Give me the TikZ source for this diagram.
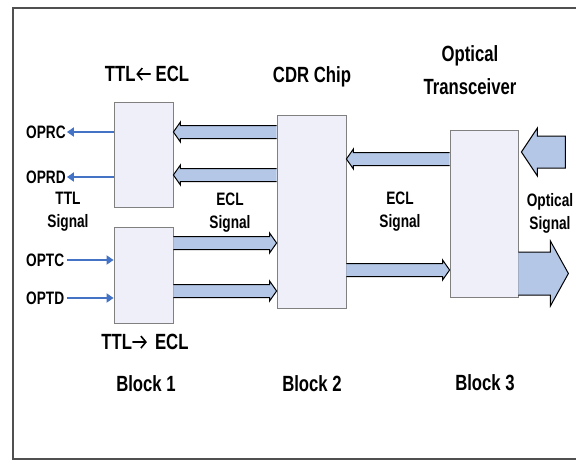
\documentclass[tikz,border=0pt]{standalone}
\usepackage{fontspec}
\setmainfont{Liberation Sans}[FakeStretch=0.76]
\usetikzlibrary{arrows.meta,calc,positioning}

\definecolor{boxfill}{HTML}{EEEFF8}
\definecolor{boxline}{HTML}{808080}
\definecolor{busfill}{HTML}{B4C7E7}
\definecolor{sigblue}{HTML}{4472C4}
\definecolor{framegray}{HTML}{505050}

\tikzset{
  block/.style={draw=boxline, fill=boxfill, line width=0.8pt, inner sep=0pt},
  bus/.style={draw=black, fill=busfill, line width=1pt, line join=miter},
  sig/.style={draw=sigblue, line width=1.8pt, -{Triangle[length=7pt,width=9pt]}},
  big/.style={font=\fontsize{22}{33}\selectfont\bfseries, align=center},
  small/.style={font=\fontsize{18}{23}\selectfont\bfseries, align=center},
  pin/.style={small, anchor=west, inner sep=1pt},
  conv/.style={line width=1.6pt, line cap=round},
}

% horizontal bus arrow: #1 direction (1 = right, -1 = left), #2 tail, #3 tip
\newcommand{\busarrow}[3][1]{%
  \draw[bus] ($(#2)+(0,-6.5)$) -- ($(#3)+({-7*(#1)},-6.5)$) -- ($(#3)+({-7*(#1)},-10)$)
    -- (#3) -- ($(#3)+({-7*(#1)},10)$) -- ($(#3)+({-7*(#1)},6.5)$) -- ($(#2)+(0,6.5)$);}
% arrow inside the converter titles
\newcommand{\convarrow}[1]{\tikz[baseline=0pt]\draw[conv, #1] (0pt,7.5pt) -- (14pt,7.5pt);}

\begin{document}
\begin{tikzpicture}[x=1pt, y=-1pt]
    \useasboundingbox (0,0) rectangle (576,461);
    \clip (0,0) rectangle (576,461);
    % Frame
    \draw[framegray, line width=1.5pt] (13,8) rectangle (600,459);

    % Blocks
    \node[block, minimum width=59pt, minimum height=105pt] (b1top) at (143.5,154.5) {};
    \node[block, minimum width=59pt, minimum height=96pt] (b1bot) at (143.5,275) {};
    \node[block, minimum width=69pt, minimum height=193pt] (cdr) at (311.5,211.5) {};
    \node[block, minimum width=68pt, minimum height=167pt] (b3) at (484,213.5) {};

    % Titles
    \node[big] (ttlin) at (147,74) {TTL\convarrow{{Straight Barb[length=5pt,width=12pt]}-} ECL};
    \node[big] (ttlout) at (145,342) {TTL\convarrow{-{Straight Barb[length=5pt,width=12pt]}}\,\,ECL};
    \node[big] (cdrname) at (312,77) {CDR Chip};
    \node[big] (b3name) at (470,70.5) {Optical\\Transceiver};
    \node[big] (blk1) at (146,384) {Block 1};
    \node[big] (blk2) at (312,384) {Block 2};
    \node[big] (blk3) at (485,383) {Block 3};

    % Signal labels
    \node[small] (ttlsig) at (68,212) {TTL\\Signal};
    \node[small] (eclsig1) at (230,213) {ECL\\Signal};
    \node[small] (eclsig2) at (400,212) {ECL\\Signal};
    \node[small] (optsig) at (550,213) {Optical\\Signal};

    % Pins
    \node[pin] (oprc) at (25,132) {OPRC};
    \node[pin] (oprd) at (25,177) {OPRD};
    \node[pin] (optc) at (25,260) {OPTC};
    \node[pin] (optd) at (25,298) {OPTD};
    \draw[sig] (b1top.west |- oprc) -- (oprc.east);
    \draw[sig] (b1top.west |- oprd) -- (oprd.east);
    \draw[sig, shorten <=2pt] (optc.east) -- (b1bot.west |- optc);
    \draw[sig, shorten <=2pt] (optd.east) -- (b1bot.west |- optd);

    % ECL buses
    \busarrow[-1]{cdr.west |- 0,132}{b1top.east |- 0,132}
    \busarrow[-1]{cdr.west |- 0,175}{b1top.east |- 0,175}
    \busarrow{b1bot.east |- 0,243}{cdr.west |- 0,243}
    \busarrow{b1bot.east |- 0,291}{cdr.west |- 0,291}
    \busarrow[-1]{b3.west |- 0,159}{cdr.east |- 0,159}
    \busarrow{cdr.east |- 0,270}{b3.west |- 0,270}

    % Optical in / out
    \coordinate (optin) at ($(b3.east |- 0,152)+(3,0)$);
    \draw[bus] (optin) -- ++(16,-24) -- ++(0,8) -- ++(28,0) -- ++(0,32)
        -- ++(-28,0) -- ++(0,8) -- cycle;
    \draw[bus] ($(b3.east |- 0,273.5)+(0,-21.5)$) -- ++(32,0) -- ++(0,-11)
        -- ++(18,32.5) -- ++(-18,32.5) -- ++(0,-11) -- ++(-32,0);
\end{tikzpicture}
\end{document}
